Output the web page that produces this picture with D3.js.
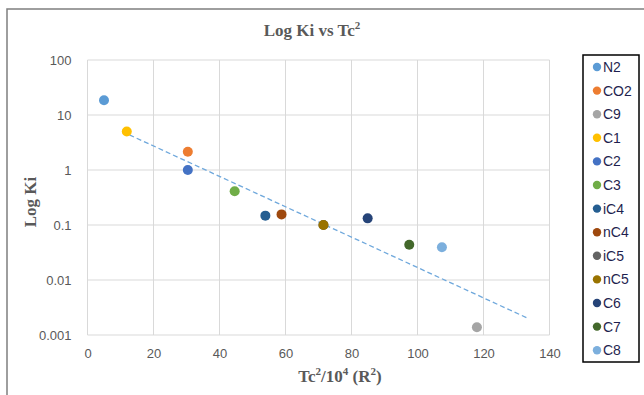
<!DOCTYPE html>
<meta charset="utf-8">
<script src="https://cdn.jsdelivr.net/npm/d3@7"></script>
<style>
body { margin: 0; background: #fff; }
.tick text { font-family: "Liberation Sans Narrow", "Liberation Sans", sans-serif; font-size: 13px; fill: #595959; }
.grid line { stroke: #d9d9d9; stroke-width: 1px; }
.ttl { font-family: "Liberation Serif", serif; font-weight: bold; fill: #595959; }
.leg text { font-family: "Liberation Sans Narrow", "Liberation Sans", sans-serif; font-size: 14px; fill: #1f1f4f; }
</style>
<body>
<script>
// series, in legend order
var names  = ["N2", "CO2", "C9", "C1", "C2", "C3", "iC4", "nC4", "iC5", "nC5", "C6", "C7", "C8"];
var tc2    = [5, 30.4, 118, 11.9, 30.4, 44.6, 53.9, 58.8, 71.5, 71.5, 84.9, 97.5, 107.4];
var logKi  = [18.5, 2.15, 0.00138, 5.0, 1.0, 0.41, 0.148, 0.156, 0.1, 0.1, 0.132, 0.0438, 0.0393];
var colors = ["#5B9BD5", "#ED7D31", "#A5A5A5", "#FFC000", "#4472C4", "#70AD47", "#255E91",
              "#9E480E", "#636363", "#997300", "#264478", "#43682B", "#7CAFDD"];
// trendline ends
var trendX = [10.5, 133];
var trendY = [5.0, 0.00207];

var xTicks = [0, 20, 40, 60, 80, 100, 120, 140];
var yTicks = [0.001, 0.01, 0.1, 1, 10, 100];

var w = 644, h = 395,
    m = {left: 87.5, right: 549.5, top: 60, bottom: 335};

var svg = d3.select("body").append("svg").attr("width", w).attr("height", h);

// outer chart frame
svg.append("rect").attr("x", 7).attr("y", 9).attr("width", 700).attr("height", 500)
  .attr("fill", "none").attr("stroke", "#7f7f7f").attr("stroke-width", 1.5);

var x = d3.scaleLinear().domain([0, 140]).range([m.left, m.right]);
var y = d3.scaleLog().domain([0.001, 100]).range([m.bottom, m.top]);

// gridlines
svg.append("g").attr("class", "grid")
  .selectAll("line").data(xTicks).enter().append("line")
  .attr("x1", d => x(d)).attr("x2", d => x(d)).attr("y1", m.top).attr("y2", m.bottom);
svg.append("g").attr("class", "grid")
  .selectAll("line").data(yTicks).enter().append("line")
  .attr("x1", m.left).attr("x2", m.right).attr("y1", d => y(d)).attr("y2", d => y(d));

// axes (labels only)
var xa = svg.append("g").attr("transform", "translate(0," + m.bottom + ")")
  .call(d3.axisBottom(x).tickValues(xTicks).tickSize(0).tickPadding(14));
var ya = svg.append("g").attr("transform", "translate(" + m.left + ",0)")
  .call(d3.axisLeft(y).tickValues(yTicks).tickSize(0).tickPadding(16).tickFormat(d => String(d)));
xa.select(".domain").remove();
ya.select(".domain").remove();

// trendline
svg.append("line")
  .attr("x1", x(trendX[0])).attr("y1", y(trendY[0]))
  .attr("x2", x(trendX[1])).attr("y2", y(trendY[1]))
  .attr("stroke", "#6FA8DC").attr("stroke-width", 1.3).attr("stroke-dasharray", "5,3");

// points
var pts = names.map((n, i) => ({name: n, x: tc2[i], y: logKi[i], c: colors[i]}));
svg.append("g").selectAll("circle").data(pts).enter().append("circle")
  .attr("cx", d => x(d.x)).attr("cy", d => y(d.y)).attr("r", 5)
  .attr("fill", d => d.c);

// titles
svg.append("text").attr("class", "ttl").attr("x", 312).attr("y", 36)
  .attr("text-anchor", "middle").style("font-size", "17px")
  .html('Log  Ki vs Tc<tspan dy="-7" font-size="11">2</tspan>');
svg.append("text").attr("class", "ttl").attr("transform", "translate(36,202) rotate(-90)")
  .attr("text-anchor", "middle").style("font-size", "17px").text("Log  Ki");
svg.append("text").attr("class", "ttl").attr("x", 340).attr("y", 382)
  .attr("text-anchor", "middle").style("font-size", "17px")
  .html('Tc<tspan dy="-7" font-size="11">2</tspan><tspan dy="7">/10</tspan><tspan dy="-7" font-size="11">4</tspan><tspan dy="7"> (R</tspan><tspan dy="-7" font-size="11">2</tspan><tspan dy="7">)</tspan>');

// legend
var leg = svg.append("g").attr("class", "leg");
leg.append("rect").attr("x", 583).attr("y", 55).attr("width", 56).attr("height", 307)
  .attr("fill", "#fff").attr("stroke", "#000").attr("stroke-width", 1.5);
var li = leg.selectAll("g.item").data(pts).enter().append("g").attr("class", "item")
  .attr("transform", (d, i) => "translate(0," + (67 + i * 23.6) + ")");
li.append("circle").attr("cx", 597).attr("cy", 0).attr("r", 4.2).attr("fill", d => d.c);
li.append("text").attr("x", 603).attr("y", 5).text(d => d.name);
</script>
</body>
